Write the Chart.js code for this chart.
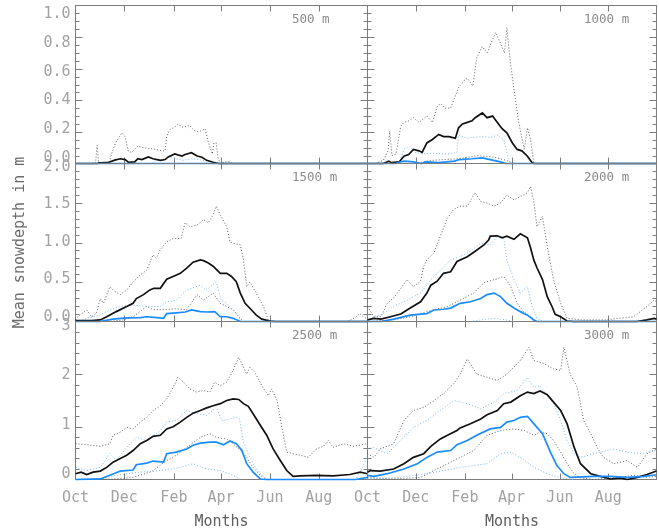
<!DOCTYPE html>
<html lang="en">
<head>
<meta charset="UTF-8">
<title>Mean snowdepth by elevation</title>
<script src="https://cdn.jsdelivr.net/npm/chart.js"></script>
<style>
  body { margin: 0; background: #fff; }
  .wrap { position: relative; width: 659px; height: 530px; }
  .wrap canvas { position: absolute; left: 0; top: 0; }
</style>
</head>
<body>
<div class="wrap">
  <canvas id="c500" width="659" height="530"></canvas>
  <canvas id="c1000" width="659" height="530"></canvas>
  <canvas id="c1500" width="659" height="530"></canvas>
  <canvas id="c2000" width="659" height="530"></canvas>
  <canvas id="c2500" width="659" height="530"></canvas>
  <canvas id="c3000" width="659" height="530"></canvas>
</div>

<script>
// x axis: days counted from 1 October
const monthDays = [0, 61, 123, 182, 243, 304];
const monthNames = ['Oct', 'Dec', 'Feb', 'Apr', 'Jun', 'Aug'];

// ---- 500 m ----
const black500 = [[0,0],[28,0],[29,0.004],[40,0.005],[49,0.021],[56,0.03],[62,0.025],[66,0.008],[74,0.01],[78,0.03],[83,0.025],[91,0.042],[97,0.03],[106,0.02],[112,0.025],[116,0.042],[124,0.061],[133,0.047],[137,0.057],[145,0.068],[152,0.047],[158,0.04],[164,0.02],[172,0.008],[179,0],[365,0]];
const blue500 = [[0,0],[365,0]];
const blackHi500 = [[25,0],[27,0.114],[29,0],[42,0],[45,0.06],[50,0.13],[55,0.17],[58,0.194],[62,0.17],[66,0.078],[70,0.07],[74,0.09],[78,0.11],[85,0.1],[92,0.095],[100,0.09],[108,0.08],[112,0.08],[114,0.173],[118,0.215],[124,0.23],[128,0.25],[134,0.23],[143,0.24],[148,0.21],[154,0.2],[162,0.22],[166,0.135],[171,0.06],[173,0.13],[176,0.13],[178,0.04],[181,0],[186,0.01],[192,0.012],[196,0]];
const blackLo500 = [];
const blueHi500 = [[95,0],[100,0.02],[110,0.025],[116,0.04],[125,0.03],[135,0.02],[145,0.03],[155,0.025],[162,0.015],[166,0]];
const blueLo500 = [];

// ---- 1000 m ----
const black1000 = [[0,0],[20,0],[27,0.015],[30,0.005],[40,0.01],[46,0.046],[52,0.057],[58,0.089],[65,0.08],[69,0.07],[75,0.13],[82,0.152],[90,0.184],[96,0.17],[103,0.17],[111,0.16],[115,0.226],[120,0.25],[126,0.26],[132,0.27],[136,0.29],[145,0.32],[151,0.29],[158,0.3],[164,0.26],[170,0.22],[176,0.194],[183,0.13],[189,0.089],[195,0.08],[202,0.046],[208,0.005],[210,0],[365,0]];
const blue1000 = [[0,0],[36,0],[40,0.008],[46,0.015],[58,0.01],[68,0],[74,0.01],[90,0.006],[110,0.015],[116,0.025],[132,0.03],[145,0.036],[155,0.025],[168,0.01],[175,0],[365,0]];
const blackHi1000 = [[10,0],[20,0.02],[26,0.08],[28,0.204],[31,0.05],[36,0.06],[42,0.236],[46,0.26],[52,0.27],[58,0.29],[65,0.26],[70,0.28],[75,0.3],[82,0.26],[88,0.36],[92,0.38],[98,0.35],[105,0.35],[110,0.416],[115,0.48],[121,0.52],[126,0.54],[133,0.49],[138,0.67],[145,0.74],[151,0.7],[158,0.785],[162,0.83],[168,0.76],[173,0.7],[176,0.86],[180,0.66],[185,0.47],[191,0.26],[198,0.09],[202,0.226],[206,0.15],[210,0],[215,0]];
const blackLo1000 = [[60,0],[80,0.02],[115,0.03],[140,0.05],[160,0.04],[175,0.02],[185,0]];
const blueHi1000 = [[40,0],[46,0.09],[53,0.11],[60,0.07],[70,0.06],[82,0.065],[100,0.06],[113,0.07],[115,0.18],[125,0.16],[135,0.165],[143,0.17],[155,0.165],[164,0.18],[172,0.15],[176,0.07],[180,0]];
const blueLo1000 = [];

// ---- 1500 m ----
const black1500 = [[0,0.01],[20,0.01],[31,0.02],[39,0.06],[51,0.125],[64,0.19],[72,0.23],[76,0.29],[85,0.34],[93,0.4],[98,0.42],[106,0.42],[114,0.535],[122,0.57],[131,0.61],[139,0.675],[147,0.75],[156,0.78],[160,0.77],[166,0.74],[172,0.7],[181,0.61],[189,0.61],[195,0.57],[201,0.505],[206,0.36],[212,0.23],[220,0.146],[226,0.08],[233,0.03],[243,0.005],[250,0],[365,0]];
const blue1500 = [[0,0],[30,0],[47,0.03],[64,0.046],[81,0.05],[89,0.06],[102,0.05],[110,0.04],[114,0.1],[126,0.11],[137,0.12],[145,0.146],[156,0.125],[164,0.12],[174,0.125],[181,0.06],[189,0.06],[197,0.04],[206,0],[365,0]];
const blackHi1500 = [[0,0.02],[3,0.06],[8,0.1],[14,0.146],[20,0.06],[26,0.1],[31,0.29],[35,0.23],[43,0.44],[49,0.38],[56,0.34],[64,0.4],[72,0.5],[81,0.59],[89,0.65],[97,0.845],[101,0.8],[106,0.91],[114,1.01],[122,1.05],[132,1.05],[137,1.25],[143,1.2],[152,1.22],[160,1.29],[166,1.25],[172,1.35],[176,1.46],[181,1.35],[189,1.2],[193,1.01],[197,0.99],[206,0.97],[210,0.78],[214,0.44],[218,0.5],[226,0.36],[235,0.19],[241,0.02],[247,0],[340,0],[350,0.05],[355,0.1],[360,0.06],[365,0.03]];
const blackLo1500 = [[40,0],[60,0.02],[72,0.06],[89,0.19],[97,0.15],[110,0.15],[125,0.16],[139,0.15],[152,0.34],[160,0.27],[172,0.36],[181,0.23],[197,0.15],[204,0.06],[210,0]];
const blueHi1500 = [[5,0],[14,0.04],[30,0.08],[43,0.146],[56,0.19],[72,0.21],[89,0.19],[106,0.19],[114,0.25],[126,0.27],[139,0.4],[156,0.46],[164,0.4],[176,0.5],[182,0.27],[189,0.23],[197,0.146],[204,0.06],[206,0]];
const blueLo1500 = [];

// ---- 2000 m ----
const black2000 = [[0,0.02],[8,0.04],[17,0.03],[29,0.06],[42,0.095],[54,0.17],[67,0.25],[75,0.36],[80,0.46],[88,0.51],[96,0.61],[105,0.63],[113,0.76],[126,0.82],[136,0.89],[147,0.97],[153,1.03],[155,1.08],[164,1.085],[170,1.06],[176,1.08],[185,1.04],[193,1.11],[202,1.06],[206,0.93],[210,0.78],[214,0.68],[221,0.53],[227,0.315],[233,0.19],[237,0.09],[244,0.06],[252,0.006],[260,0],[340,0],[353,0.02],[362,0.04],[365,0.03]];
const blue2000 = [[0,0],[17,0],[33,0.03],[54,0.08],[75,0.1],[84,0.146],[96,0.155],[105,0.17],[117,0.23],[130,0.25],[143,0.29],[151,0.34],[160,0.36],[168,0.315],[176,0.23],[185,0.17],[193,0.125],[202,0.08],[210,0.02],[214,0],[365,0]];
const blackHi2000 = [[0,0.19],[8,0.06],[17,0.06],[25,0.23],[33,0.3],[42,0.42],[50,0.53],[58,0.44],[67,0.51],[71,0.7],[75,0.78],[84,0.87],[92,1.08],[101,1.31],[109,1.42],[117,1.46],[126,1.46],[136,1.63],[143,1.52],[151,1.5],[160,1.46],[168,1.5],[176,1.6],[185,1.54],[193,1.58],[202,1.63],[206,1.71],[210,1.52],[214,1.2],[221,1.33],[227,0.95],[235,0.53],[244,0.23],[252,0.04],[270,0.02],[300,0.02],[336,0.06],[353,0.19],[362,0.27],[365,0.25]];
const blackLo2000 = [[0,0],[33,0.02],[54,0.06],[75,0.125],[101,0.19],[117,0.27],[134,0.36],[147,0.49],[160,0.53],[172,0.57],[181,0.44],[189,0.23],[197,0.125],[206,0.06],[214,0]];
const blueHi2000 = [[0,0],[8,0.06],[20,0.1],[33,0.19],[50,0.27],[67,0.36],[80,0.53],[92,0.65],[105,0.78],[117,0.82],[130,0.89],[143,0.99],[155,0.97],[164,1.08],[172,1.06],[176,0.78],[185,0.53],[193,0.36],[202,0.44],[208,0.19],[214,0.04],[222,0]];
const blueLo2000 = [[130,0],[150,0.03],[160,0.04],[175,0.02],[185,0]];

// ---- 2500 m ----
const black2500 = [[0,0.11],[7,0.14],[14,0.095],[22,0.14],[31,0.16],[39,0.23],[47,0.33],[56,0.4],[64,0.46],[72,0.55],[81,0.68],[89,0.74],[97,0.82],[106,0.84],[114,0.96],[122,1.0],[131,1.09],[139,1.18],[147,1.26],[156,1.31],[164,1.36],[172,1.4],[181,1.44],[189,1.5],[197,1.53],[204,1.52],[210,1.44],[216,1.39],[222,1.25],[231,1.03],[239,0.84],[247,0.58],[256,0.36],[264,0.17],[272,0.06],[281,0.07],[301,0.08],[322,0.07],[343,0.095],[356,0.14],[365,0.11]];
const blue2500 = [[0,0],[31,0.01],[43,0.08],[56,0.16],[72,0.18],[76,0.28],[89,0.31],[97,0.35],[110,0.33],[114,0.49],[126,0.52],[139,0.58],[147,0.65],[156,0.69],[168,0.71],[176,0.71],[185,0.66],[193,0.73],[201,0.68],[208,0.55],[214,0.3],[222,0.14],[231,0.01],[239,0],[350,0],[365,0.04]];
const blackHi2500 = [[0,0.68],[14,0.66],[31,0.63],[43,0.68],[47,0.84],[56,0.9],[64,0.99],[72,0.96],[81,1.09],[89,1.18],[97,1.31],[106,1.4],[114,1.53],[122,1.75],[128,1.94],[135,1.85],[143,1.72],[151,1.66],[160,1.69],[168,1.66],[174,1.85],[181,1.78],[189,1.85],[197,2.07],[204,2.32],[210,2.13],[214,2.0],[218,2.13],[224,2.04],[233,1.78],[241,1.59],[245,1.72],[252,1.5],[258,0.99],[264,0.52],[272,0.49],[281,0.46],[291,0.42],[301,0.58],[310,0.63],[316,0.74],[322,0.61],[335,0.68],[347,0.63],[365,0.68]];
const blackLo2500 = [[0,0],[50,0.01],[72,0.04],[95,0.15],[114,0.36],[122,0.42],[139,0.61],[156,0.8],[168,0.87],[176,0.8],[189,0.77],[197,0.68],[206,0.55],[214,0.42],[222,0.23],[231,0.08],[239,0]];
const blueHi2500 = [[0,0.23],[14,0.17],[31,0.23],[43,0.49],[51,0.36],[64,0.61],[76,0.8],[89,0.74],[106,0.93],[114,1.09],[126,1.12],[139,1.31],[151,1.25],[164,1.22],[176,1.37],[183,1.12],[193,1.15],[201,1.18],[205,1.15],[210,0.71],[216,0.49],[222,0.3],[231,0.11],[239,0.01],[250,0],[350,0],[358,0.2],[365,0.45]];
const blueLo2500 = [[0,0],[31,0.02],[64,0.11],[81,0.14],[106,0.17],[131,0.23],[147,0.3],[164,0.2],[181,0.17],[197,0.08],[206,0]];

// ---- 3000 m ----
const black3000 = [[0,0.14],[4,0.17],[16,0.16],[33,0.2],[46,0.3],[58,0.42],[71,0.49],[80,0.63],[92,0.77],[101,0.84],[113,0.93],[117,0.98],[130,1.06],[143,1.15],[151,1.23],[164,1.31],[172,1.44],[181,1.47],[193,1.59],[202,1.66],[210,1.63],[218,1.68],[227,1.61],[235,1.47],[244,1.31],[252,1.06],[261,0.61],[269,0.3],[282,0.11],[294,0.06],[307,0.01],[319,0.03],[328,0],[341,0.04],[353,0.095],[365,0.16]];
const blue3000 = [[0,0.08],[8,0.06],[25,0.11],[46,0.2],[63,0.3],[75,0.42],[88,0.52],[105,0.55],[113,0.66],[126,0.74],[138,0.84],[155,0.96],[168,0.99],[176,1.09],[185,1.12],[193,1.18],[202,1.2],[210,1.06],[221,0.87],[231,0.52],[239,0.27],[248,0.11],[256,0.04],[286,0.06],[307,0.06],[328,0.04],[349,0.06],[365,0.09]];
const blackHi3000 = [[0,0.49],[8,0.42],[16,0.58],[33,0.68],[46,1.12],[58,1.31],[71,1.37],[84,1.5],[96,1.63],[109,1.82],[117,2.0],[126,2.29],[138,2.0],[151,1.94],[164,1.88],[176,2.0],[193,2.26],[204,2.51],[210,2.26],[223,2.2],[235,2.1],[244,2.07],[248,2.51],[256,2.0],[265,1.75],[273,1.12],[282,0.87],[290,0.61],[298,0.42],[311,0.3],[328,0.36],[341,0.23],[353,0.49],[365,0.58]];
const blackLo3000 = [[0,0.04],[33,0.01],[67,0.04],[84,0.17],[101,0.3],[117,0.42],[134,0.55],[151,0.84],[168,0.93],[185,0.96],[198,0.93],[210,0.84],[218,0.9],[227,0.87],[235,0.74],[244,0.52],[252,0.3],[261,0.11],[269,0.03],[285,0],[319,0.04],[336,0.08],[353,0.04],[365,0.06]];
const blueHi3000 = [[0,0.58],[8,0.61],[25,0.49],[42,0.74],[58,0.99],[75,1.12],[92,1.31],[109,1.5],[126,1.44],[143,1.34],[160,1.47],[172,1.63],[189,1.69],[202,1.94],[210,1.75],[218,1.78],[227,1.59],[235,1.44],[244,1.12],[252,0.74],[261,0.49],[269,0.42],[286,0.49],[311,0.58],[328,0.52],[345,0.49],[365,0.55]];
const blueLo3000 = [[0,0.01],[33,0.03],[75,0.11],[117,0.23],[151,0.3],[168,0.49],[181,0.52],[193,0.42],[210,0.23],[227,0.11],[244,0.03],[261,0]];

// ---- layout ----
const W = 659, H = 530;
const colX = [[75.5, 367.5], [367.5, 656.5]];
const rowY = [[5.5, 163.5], [163.5, 321.5], [321.5, 479.5]];
const mono = "'DejaVu Sans Mono', monospace";
const frameGrey = '#7c7c7c';
const labelGrey = '#a2a2a2';

const panels = [
  { id: 'c500',  name: '500 m',  col: 0, row: 0, max: 1, major: 0.2, minor: 0.05, labRange: [-0.038, 1.059], digits: 1,
    data: [blue500, black500, blueHi500, blueLo500, blackHi500, blackLo500] },
  { id: 'c1000', name: '1000 m', col: 1, row: 0, max: 1, major: 0.2, minor: 0.05,
    data: [blue1000, black1000, blueHi1000, blueLo1000, blackHi1000, blackLo1000] },
  { id: 'c1500', name: '1500 m', col: 0, row: 1, max: 2, major: 0.5, minor: 0.1, labRange: [-0.06, 2.047], digits: 1,
    data: [blue1500, black1500, blueHi1500, blueLo1500, blackHi1500, blackLo1500] },
  { id: 'c2000', name: '2000 m', col: 1, row: 1, max: 2, major: 0.5, minor: 0.1,
    data: [blue2000, black2000, blueHi2000, blueLo2000, blackHi2000, blackLo2000] },
  { id: 'c2500', name: '2500 m', col: 0, row: 2, max: 3, major: 1, minor: 0.2, labRange: [-0.111, 3.09], digits: 0,
    data: [blue2500, black2500, blueHi2500, blueLo2500, blackHi2500, blackLo2500] },
  { id: 'c3000', name: '3000 m', col: 1, row: 2, max: 3, major: 1, minor: 0.2,
    data: [blue3000, black3000, blueHi3000, blueLo3000, blackHi3000, blackLo3000] }
];

const lineStyles = [
  { borderColor: '#1a8cff', borderWidth: 1.7 },
  { borderColor: '#111111', borderWidth: 1.7 },
  { borderColor: '#78b6f2', borderWidth: 1, borderDash: [1, 2] },
  { borderColor: '#78b6f2', borderWidth: 1, borderDash: [1, 2] },
  { borderColor: 'rgba(70,70,70,0.85)', borderWidth: 1, borderDash: [1, 2] },
  { borderColor: 'rgba(70,70,70,0.85)', borderWidth: 1, borderDash: [1, 2] }
];

// box with inward ticks on all four sides plus the elevation tag
const framePlugin = {
  id: 'frame',
  beforeDatasetsDraw(chart, args, opts) {
    const { ctx, chartArea: a, scales: { x, y } } = chart;
    ctx.save();
    ctx.strokeStyle = frameGrey;
    ctx.lineWidth = 1;
    ctx.strokeRect(a.left, a.top, a.right - a.left, a.bottom - a.top);
    ctx.beginPath();
    const n = Math.round(opts.max / opts.minor);
    const per = Math.round(opts.major / opts.minor);
    for (let i = 1; i < n; i++) {
      const py = Math.round(y.getPixelForValue(i * opts.minor)) + 0.5;
      const len = i % per === 0 ? 7 : 4;
      ctx.moveTo(a.left, py); ctx.lineTo(a.left + len, py);
      ctx.moveTo(a.right, py); ctx.lineTo(a.right - len, py);
    }
    monthDays.slice(1).forEach(d => {
      const px = Math.round(x.getPixelForValue(d)) + 0.5;
      ctx.moveTo(px, a.top); ctx.lineTo(px, a.top + 6);
      ctx.moveTo(px, a.bottom); ctx.lineTo(px, a.bottom - 6);
    });
    ctx.stroke();
    ctx.fillStyle = '#8a8a8a';
    ctx.font = '12.5px ' + mono;
    ctx.textBaseline = 'middle';
    ctx.fillText(opts.name, a.left + 216.5, a.top + 14.5);
    ctx.restore();
  }
};

// keep the label axes from pushing the plot box around
function noEdgePadding(s) {
  s.paddingTop = 0; s.paddingBottom = 0; s.paddingLeft = 0; s.paddingRight = 0;
}

function buildPanel(p) {
  const [L, R] = colX[p.col];
  const [T, B] = rowY[p.row];
  const isLeft = p.col === 0;
  const isBottom = p.row === 2;
  const yAxisW = 70;

  const scales = {
    x: {
      type: 'linear', min: 0, max: 365, display: isBottom,
      grid: { display: false, drawTicks: false }, border: { display: false },
      afterBuildTicks: s => { s.ticks = monthDays.map(v => ({ value: v })); },
      afterFit: s => { noEdgePadding(s); if (isBottom) s.height = H - B; },
      ticks: {
        autoSkip: false, maxRotation: 0, padding: 10, color: labelGrey,
        font: { family: mono, size: 15, lineHeight: 1.2 },
        callback: v => monthNames[monthDays.indexOf(v)]
      },
      title: { display: true, text: 'Months', color: '#5e5e5e', padding: 0,
               font: { family: mono, size: 15, lineHeight: 1 } }
    },
    y: { type: 'linear', min: 0, max: p.max, display: false }
  };

  if (isLeft) {
    const tickVals = [];
    for (let v = 0; v <= p.max + 1e-9; v += p.major) tickVals.push(+v.toFixed(2));
    scales.yl = {
      type: 'linear', position: 'left', min: p.labRange[0], max: p.labRange[1],
      grid: { display: false, drawTicks: false }, border: { display: false },
      afterBuildTicks: s => { s.ticks = tickVals.map(v => ({ value: v })); },
      afterFit: s => { noEdgePadding(s); s.width = yAxisW; },
      ticks: { padding: 5, color: labelGrey, font: { family: mono, size: 15 },
               callback: v => v.toFixed(p.digits) },
      title: { display: p.row === 1, text: 'Mean snowdepth in m', color: '#6a6a6a',
               padding: { top: 5.5, bottom: 0 }, font: { family: mono, size: 15, lineHeight: 1.2 } }
    };
  }

  new Chart(document.getElementById(p.id), {
    type: 'line',
    data: {
      datasets: p.data.map((d, i) => Object.assign({
        data: d, pointRadius: 0, tension: 0, fill: false, clip: 3
      }, lineStyles[i]))
    },
    options: {
      responsive: false,
      animation: false,
      events: [],
      layout: { padding: {
        left: isLeft ? L - yAxisW : L,
        right: W - R,
        top: T,
        bottom: isBottom ? 0 : H - B
      } },
      scales,
      plugins: {
        legend: { display: false },
        tooltip: { enabled: false },
        frame: { name: p.name, max: p.max, major: p.major, minor: p.minor }
      }
    },
    plugins: [framePlugin]
  });
}

panels.forEach(buildPanel);
</script>
</body>
</html>
